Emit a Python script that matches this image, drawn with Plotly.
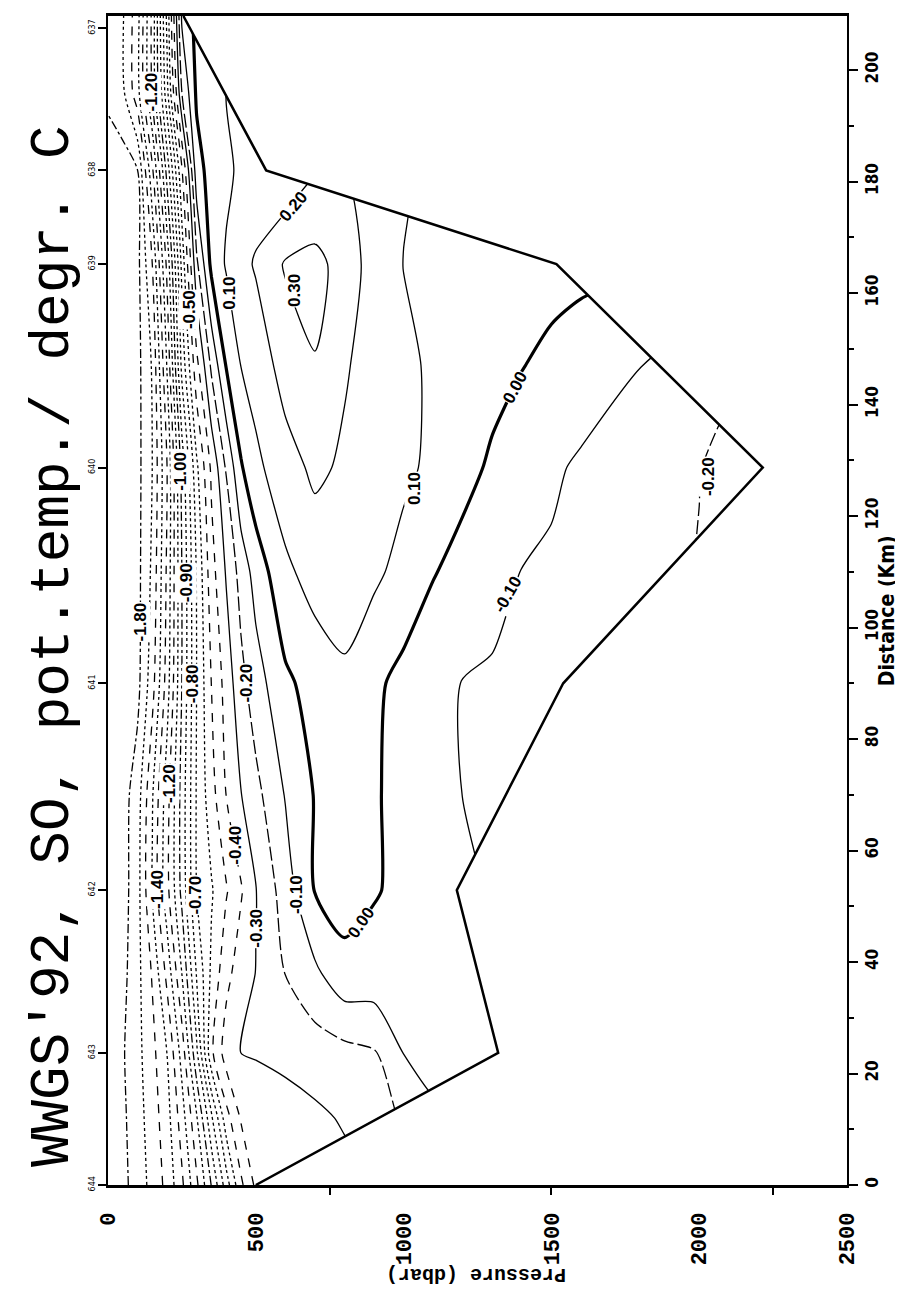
import plotly.graph_objects as go

# ---------------- data read from the section ----------------
pressure_dbar = [0, 50, 100, 150, 200, 250, 300, 350, 400, 450, 500, 600, 700, 800,
                 900, 1000, 1100, 1200, 1300, 1400, 1500, 1600, 1800, 2000, 2200, 2400]
section_km = [0, 12, 23.7, 38, 52.9, 70, 90, 110, 128.7, 147, 165.2, 182, 196, 210]

# potential temperature profiles (deg C) along the section, one per distance
theta_km000 = [-1.90, -1.83, -1.75, -1.67, -1.57, -1.42, -1.22, -0.995, -0.75, -0.52, -0.38, -0.37, -0.36,
               -0.33, -0.305, -0.27, -0.24, -0.22, -0.205, -0.205, -0.205, -0.205, -0.205, -0.205, -0.205, -0.205]
theta_km012 = [-1.90, -1.82, -1.74, -1.65, -1.54, -1.35, -1.11, -0.82, -0.54, -0.39, -0.38, -0.35, -0.32,
               -0.29, -0.24, -0.19, -0.11, -0.098, -0.09, -0.09, -0.09, -0.095, -0.11, -0.12, -0.13, -0.14]
theta_km024 = [-1.90, -1.81, -1.73, -1.63, -1.498, -1.26, -0.92, -0.52, -0.35, -0.297, -0.29, -0.27, -0.25,
               -0.23, -0.21, -0.098, -0.08, -0.06, -0.045, -0.05, -0.06, -0.07, -0.09, -0.105, -0.105, -0.105]
theta_km038 = [-1.90, -1.83, -1.73, -1.59, -1.37, -1.098, -0.79, -0.58, -0.43, -0.35, -0.298, -0.198, -0.12,
               -0.03, -0.035, -0.065, -0.08, -0.08, -0.09, -0.102, -0.11, -0.12, -0.13, -0.14, -0.14, -0.14]
theta_km053 = [-1.90, -1.84, -1.74, -1.49, -1.23, -0.97, -0.698, -0.61, -0.51, -0.41, -0.304, -0.15, 0.005,
               0.04, 0.007, -0.02, -0.05, -0.075, -0.11, -0.13, -0.14, -0.15, -0.16, -0.17, -0.17, -0.17]
theta_km070 = [-1.90, -1.84, -1.75, -1.51, -1.24, -0.96, -0.69, -0.54, -0.398, -0.303, -0.23, -0.094, 0.006,
               0.05, 0.01, -0.03, -0.065, -0.101, -0.122, -0.135, -0.145, -0.155, -0.17, -0.18, -0.18, -0.18]
theta_km090 = [-1.90, -1.87, -1.83, -1.64, -1.35, -0.998, -0.698, -0.498, -0.36, -0.23, -0.145, -0.02, 0.04,
               0.075, 0.02, -0.03, -0.07, -0.103, -0.111, -0.119, -0.128, -0.14, -0.16, -0.18, -0.19, -0.195]
theta_km110 = [-1.90, -1.87, -1.83, -1.68, -1.38, -0.998, -0.69, -0.44, -0.29, -0.16, -0.06, 0.08, 0.14,
               0.17, 0.12, 0.067, 0.006, -0.034, -0.07, -0.102, -0.112, -0.122, -0.142, -0.205, -0.24, -0.25]
theta_km129 = [-1.90, -1.87, -1.83, -1.699, -1.399, -0.96, -0.62, -0.38, -0.19, -0.01, 0.077, 0.16, 0.22,
               0.185, 0.15, 0.12, 0.08, 0.03, -0.014, -0.05, -0.086, -0.113, -0.155, -0.197, -0.26, -0.27]
theta_km147 = [-1.90, -1.87, -1.83, -1.69, -1.29, -0.77, -0.43, -0.18, 0.006, 0.102, 0.14, 0.24, 0.295,
               0.21, 0.16, 0.12, 0.086, 0.058, 0.03, 0.003, -0.022, -0.048, -0.098, -0.17, -0.205, -0.21]
theta_km165 = [-1.90, -1.87, -1.83, -1.599, -1.17, -0.67, -0.22, 0.026, 0.11, 0.17, 0.21, 0.31, 0.33,
               0.26, 0.154, 0.098, 0.085, 0.072, 0.058, 0.045, 0.032, 0.025, 0.01, -0.005, -0.02, -0.03]
theta_km182 = [-1.90, -1.85, -1.801, -1.42, -0.96, -0.51, -0.04, 0.04, 0.083, 0.116, 0.14, 0.11, 0.19,
               0.199, 0.15, 0.11, 0.08, 0.06, 0.05, 0.045, 0.04, 0.035, 0.02, 0.01, 0.002, -0.01]
theta_km196 = [-1.76, -1.72, -1.54, -1.18, -0.73, -0.199, 0.017, 0.06, 0.101, 0.11, 0.12, 0.14, 0.15,
               0.15, 0.13, 0.098, 0.08, 0.06, 0.05, 0.045, 0.04, 0.035, 0.02, 0.01, 0.002, -0.01]
theta_km210 = [-1.74, -1.71, -1.54, -1.17, -0.67, -0.08, 0.03, 0.06, 0.08, 0.09, 0.098, 0.098, 0.098,
               0.098, 0.098, 0.09, 0.08, 0.06, 0.05, 0.045, 0.04, 0.035, 0.02, 0.01, 0.002, -0.01]

theta = [theta_km000, theta_km012, theta_km024, theta_km038, theta_km053, theta_km070, theta_km090,
         theta_km110, theta_km129, theta_km147, theta_km165, theta_km182, theta_km196, theta_km210]

# stations (CTD casts) and bottom profile
station_names = ["644", "643", "642", "641", "640", "639", "638", "637"]
station_km = [0, 23.7, 52.9, 90, 128.7, 165.2, 182, 207.5]
bottom_km = [0, 23.7, 52.9, 90, 128.7, 165.2, 182, 207.5, 209.7]
bottom_dbar = [500, 1320, 1180, 1540, 2215, 1517, 535, 275, 255]

contour_levels = [round(-1.8 + 0.1 * k, 2) for k in range(22)]      # -1.80 ... 0.30

# contour labels as they appear on the section: (text, pressure, distance, angle)
label_text = ["-1.80", "-1.40", "-1.20", "-1.20", "-1.00", "-0.90", "-0.80", "-0.70", "-0.50",
              "-0.40", "-0.30", "-0.20", "-0.10", "0.00", "0.00", "0.10", "0.10", "-0.10",
              "-0.20", "0.20", "0.30"]
label_dbar = [110, 167, 208, 146, 245, 268, 284, 296, 275,
              432, 501, 468, 636, 858, 1378, 408, 1035, 1352,
              2030, 628, 633]
label_km = [101, 53, 72, 196, 128, 108, 90, 52, 157,
            61, 46, 90, 52, 47, 143, 160, 125, 106,
            127, 175.5, 160.4]
label_angle = [-90, -90, -90, -90, -90, -90, -90, -90, -90,
               -90, -90, -90, -90, -55, -62, -90, -90, -60,
               -90, -50, -90]

pressure_ticks = [0, 500, 1000, 1500, 2000, 2500]
distance_range = [0, 209.7]
pressure_range = [0, 2500]

title_text = "WWGS'92, SO, pot.temp./ degr. C"

# ---------------- styles ----------------
dash_for = {
    -1.8: "dashdot", -1.7: "dot", -1.6: "dash", -1.5: "dot", -1.4: "dash", -1.3: "dot",
    -1.2: "dash", -1.1: "dot", -1.0: "dashdot", -0.9: "dot", -0.8: "dot", -0.7: "dot",
    -0.6: "dot", -0.5: "dash", -0.4: "dash", -0.3: "solid", -0.2: "14px,4px", -0.1: "solid",
    0.0: "solid", 0.1: "solid", 0.2: "solid", 0.3: "solid",
}

fig = go.Figure()

for lev in contour_levels:
    width = 3.2 if lev == 0.0 else 1.3
    fig.add_trace(go.Contour(
        x=pressure_dbar, y=section_km, z=theta,
        autocontour=False,
        contours=dict(start=lev, end=lev + 0.001, size=1.0, coloring="none", showlabels=False),
        line=dict(color="black", width=width, dash=dash_for[lev], smoothing=0.7),
        showscale=False, hoverinfo="skip",
    ))

# blank out everything below the sea floor
fig.add_trace(go.Scatter(
    x=bottom_dbar + [pressure_range[1], pressure_range[1]],
    y=bottom_km + [distance_range[1], distance_range[0]],
    mode="lines", fill="toself", fillcolor="white", line=dict(width=0),
    hoverinfo="skip",
))
fig.add_trace(go.Scatter(
    x=bottom_dbar, y=bottom_km, mode="lines",
    line=dict(color="black", width=2.5), hoverinfo="skip",
))

# station markers on the surface edge
fig.add_trace(go.Scatter(
    x=[-28] * len(station_km), y=station_km, yaxis="y2", mode="markers",
    marker=dict(size=4, color="black"), cliponaxis=False, hoverinfo="skip",
))

annotations = [
    dict(text=title_text, xref="paper", yref="paper", x=-0.0744, y=0.461,
         xanchor="center", yanchor="middle", showarrow=False, textangle=-90,
         font=dict(family="Liberation Mono", size=56, color="black")),
    dict(text="Pressure (dbar)", xref="paper", yref="paper", x=0.498, y=-0.076,
         xanchor="center", yanchor="middle", showarrow=False, textangle=180,
         font=dict(family="Liberation Mono", size=20, color="black", weight="bold")),
    dict(text="Distance (Km)", xref="paper", yref="paper", x=1.0545, y=0.491,
         xanchor="center", yanchor="middle", showarrow=False, textangle=-90,
         font=dict(family="DejaVu Sans Condensed, DejaVu Sans", size=21, color="black", weight="bold")),
]
for txt, p, d, ang in zip(label_text, label_dbar, label_km, label_angle):
    annotations.append(dict(
        text=txt, x=p, y=d, xref="x", yref="y", showarrow=False, textangle=ang,
        xanchor="center", yanchor="middle", bgcolor="white", borderpad=0,
        font=dict(family="Liberation Sans", size=17, color="black", weight="bold"),
    ))

fig.update_layout(
    width=903, height=1290,
    margin=dict(l=100, r=64, t=5, b=113),
    paper_bgcolor="white", plot_bgcolor="white",
    showlegend=False,
    xaxis=dict(
        range=pressure_range, tickvals=pressure_ticks, ticks="",
        showline=True, linewidth=2.5, linecolor="black", mirror=True,
        showgrid=False, zeroline=False,
        tickangle=-90, ticklabelstandoff=16,
        tickfont=dict(family="Liberation Mono", size=22, color="black", weight="bold"),
        minor=dict(tickvals=[750, 1500, 2250], ticks="outside", ticklen=7, tickwidth=1.5, tickcolor="black"),
    ),
    yaxis=dict(
        range=distance_range, side="right", tick0=0, dtick=20,
        ticks="outside", ticklen=9, tickwidth=2, tickcolor="black",
        showline=True, linewidth=2, linecolor="black", mirror=True,
        showgrid=False, zeroline=False,
        tickangle=-90,
        tickfont=dict(family="DejaVu Sans Condensed, DejaVu Sans", size=17, color="black", weight="bold"),
        minor=dict(dtick=10, ticks="outside", ticklen=5, tickwidth=1.5, tickcolor="black"),
    ),
    yaxis2=dict(
        overlaying="y", side="left", anchor="x", range=distance_range,
        tickvals=station_km, ticktext=station_names,
        ticks="outside", ticklen=9, tickwidth=1.5, tickcolor="black",
        showline=False, showgrid=False, zeroline=False,
        tickangle=-90, tickfont=dict(family="DejaVu Sans", size=8, color="black"),
    ),
    annotations=annotations,
)

fig.write_html("out.html")
